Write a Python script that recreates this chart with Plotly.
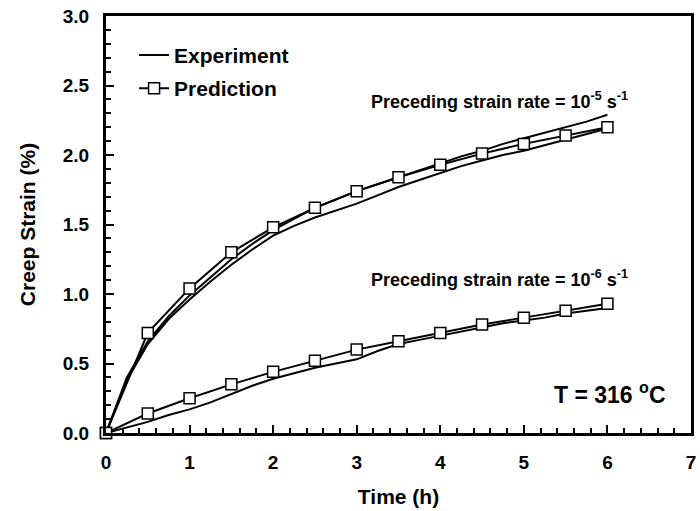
import plotly.graph_objects as go

# ---- data ----
t_pred = [0, 0.5, 1.0, 1.5, 2.0, 2.5, 3.0, 3.5, 4.0, 4.5, 5.0, 5.5, 6.0]
pred_hi = [0, 0.72, 1.04, 1.30, 1.48, 1.62, 1.74, 1.84, 1.93, 2.01, 2.08, 2.14, 2.20]
pred_lo = [0, 0.14, 0.25, 0.35, 0.44, 0.52, 0.60, 0.66, 0.72, 0.78, 0.83, 0.88, 0.93]

t_exp = [0, 0.25, 0.5, 0.75, 1.0, 1.25, 1.5, 1.75, 2.0, 2.25, 2.5, 2.75, 3.0,
         3.25, 3.5, 3.75, 4.0, 4.25, 4.5, 4.75, 5.0, 5.25, 5.5, 5.75, 6.0]
exp_hi_a = [0, 0.40, 0.66, 0.84, 0.99, 1.12, 1.25, 1.36, 1.46, 1.54, 1.62, 1.68, 1.74,
            1.79, 1.84, 1.89, 1.94, 1.99, 2.03, 2.08, 2.12, 2.16, 2.20, 2.24, 2.29]
exp_hi_b = [0, 0.38, 0.64, 0.82, 0.96, 1.09, 1.21, 1.32, 1.42, 1.49, 1.55, 1.60, 1.65,
            1.71, 1.77, 1.82, 1.87, 1.92, 1.96, 2.00, 2.03, 2.07, 2.11, 2.15, 2.19]
exp_lo = [0, 0.04, 0.08, 0.13, 0.17, 0.22, 0.28, 0.34, 0.39, 0.43, 0.47, 0.50, 0.53,
          0.59, 0.64, 0.67, 0.70, 0.73, 0.76, 0.79, 0.81, 0.83, 0.86, 0.88, 0.90]

FONT = "Liberation Sans, Arial, sans-serif"

fig = go.Figure()
for i, ys in enumerate([exp_hi_a, exp_hi_b, exp_lo]):
    fig.add_trace(go.Scatter(x=t_exp, y=ys, mode="lines",
                             line=dict(color="black", width=2),
                             name="Experiment", legendgroup="exp",
                             showlegend=(i == 0)))
for i, ys in enumerate([pred_hi, pred_lo]):
    fig.add_trace(go.Scatter(x=t_pred, y=ys, mode="lines+markers",
                             line=dict(color="black", width=2),
                             marker=dict(symbol="square", size=11, color="white",
                                         line=dict(color="black", width=1.5)),
                             cliponaxis=False,
                             name="Prediction", legendgroup="pred",
                             showlegend=(i == 0)))

axis_common = dict(showline=True, linecolor="black", linewidth=3, mirror=True,
                   showgrid=False, zeroline=False, ticks="inside", tickcolor="black",
                   tickwidth=2, ticklen=8,
                   tickfont=dict(family=FONT, size=19, color="black", weight="bold"))

fig.update_xaxes(range=[0, 7], dtick=1, tick0=0,
                 minor=dict(dtick=0.2, ticks="inside", ticklen=5, tickwidth=2, tickcolor="black"),
                 ticklabelstandoff=10,
                 title=dict(text="Time (h)", standoff=18,
                            font=dict(family=FONT, size=21, color="black", weight="bold")),
                 **axis_common)
fig.update_yaxes(range=[0, 3.0], dtick=0.5, tick0=0, tickformat=".1f",
                 minor=dict(dtick=0.1, ticks="inside", ticklen=5, tickwidth=2, tickcolor="black"),
                 ticklabelstandoff=10,
                 title=dict(text="Creep Strain (%)", standoff=22,
                            font=dict(family=FONT, size=21, color="black", weight="bold")),
                 **axis_common)

fig.add_annotation(x=3.15, y=2.39, xref="x", yref="y", xanchor="left", yanchor="middle",
                   text="Preceding strain rate = 10<sup>-5</sup> s<sup>-1</sup>", showarrow=False,
                   font=dict(family=FONT, size=18, color="black", weight="bold"))
fig.add_annotation(x=3.15, y=1.11, xref="x", yref="y", xanchor="left", yanchor="middle",
                   text="Preceding strain rate = 10<sup>-6</sup> s<sup>-1</sup>", showarrow=False,
                   font=dict(family=FONT, size=18, color="black", weight="bold"))
fig.add_annotation(x=6.73, y=0.29, xref="x", yref="y", xanchor="right", yanchor="middle",
                   text="T = 316 <sup>o</sup>C", showarrow=False,
                   font=dict(family=FONT, size=23, color="black", weight="bold"))

fig.update_layout(
    width=700, height=511,
    margin=dict(l=106, r=4, t=16, b=78),
    paper_bgcolor="white", plot_bgcolor="white",
    showlegend=True,
    legend=dict(x=0.048, y=0.955, xanchor="left", yanchor="top",
                bgcolor="rgba(0,0,0,0)", borderwidth=0,
                font=dict(family=FONT, size=21, color="black", weight="bold"),
                tracegroupgap=3, itemwidth=30),
)

fig.write_html("out.html")
